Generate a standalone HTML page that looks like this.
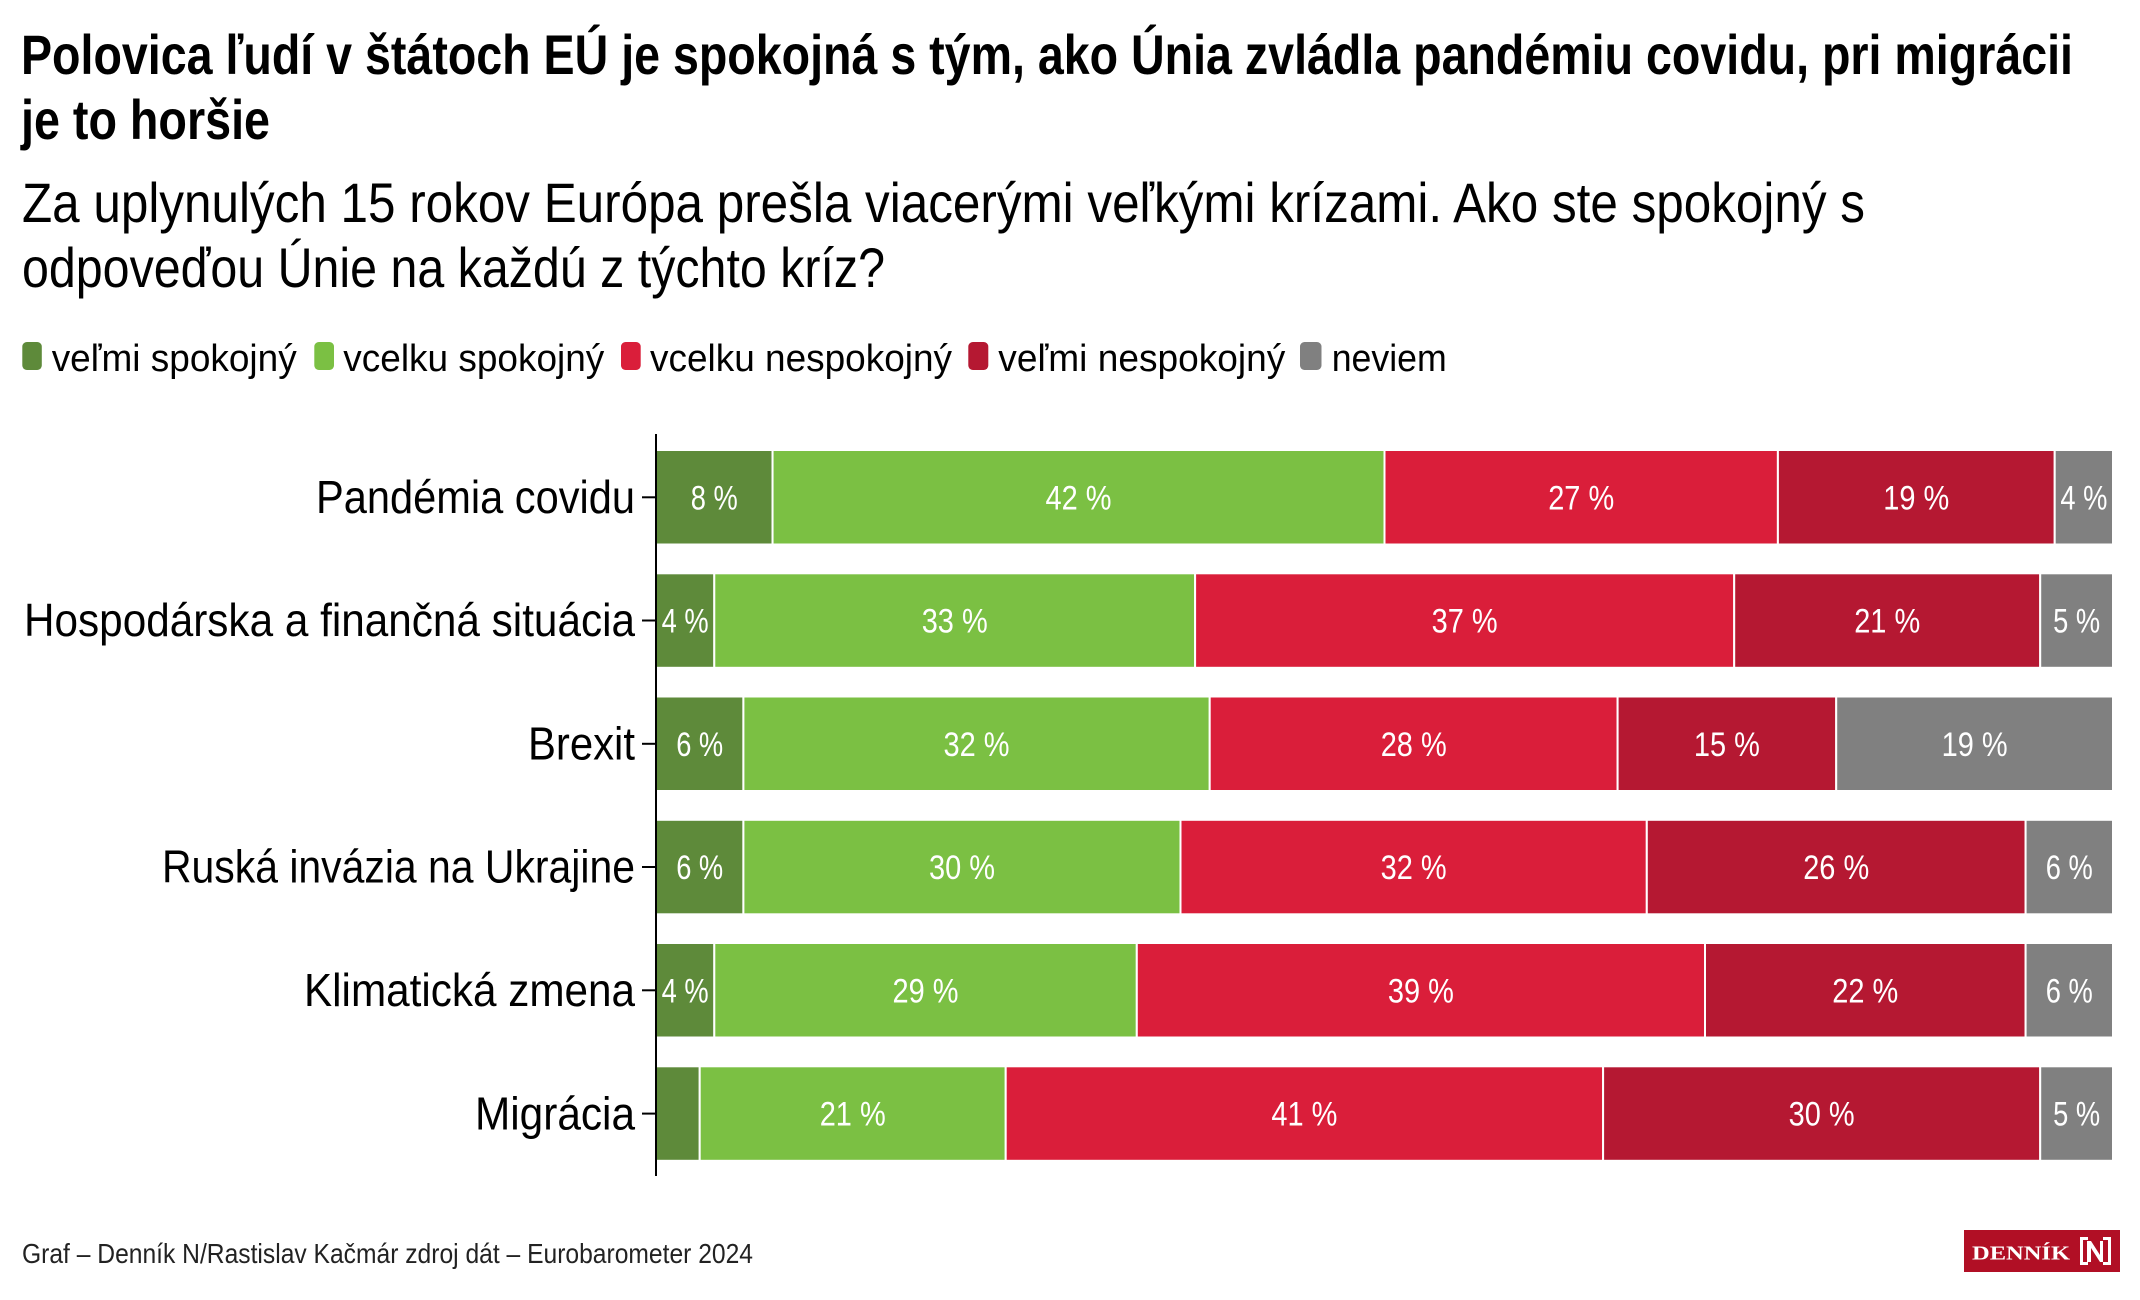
<!DOCTYPE html>
<html>
<head>
<meta charset="utf-8">
<style>
html,body{margin:0;padding:0;background:#fff;}
svg{display:block;}
text{font-family:"Liberation Sans Narrow","Liberation Sans",Arial,sans-serif;}
.t{font-weight:bold;font-size:56px;fill:#000;}
.s{font-size:56px;fill:#000;}
.lg{font-size:38px;fill:#000;}
.cat{font-size:46px;fill:#000;}
.v{font-size:34px;fill:#fff;}
.f{font-size:28px;fill:#222;}
</style>
</head>
<body>
<svg width="2140" height="1300" viewBox="0 0 2140 1300" xmlns="http://www.w3.org/2000/svg">
<rect width="2140" height="1300" fill="#fff"/>

<!-- Title -->
<text class="t" x="21" y="74" textLength="2052" lengthAdjust="spacingAndGlyphs">Polovica ľudí v štátoch EÚ je spokojná s tým, ako Únia zvládla pandémiu covidu, pri migrácii</text>
<text class="t" x="21" y="139" textLength="249" lengthAdjust="spacingAndGlyphs">je to horšie</text>

<!-- Subtitle -->
<text class="s" x="22" y="222" textLength="1843" lengthAdjust="spacingAndGlyphs">Za uplynulých 15 rokov Európa prešla viacerými veľkými krízami. Ako ste spokojný s</text>
<text class="s" x="22" y="287" textLength="863" lengthAdjust="spacingAndGlyphs">odpoveďou Únie na každú z týchto kríz?</text>

<!-- Legend -->
<rect x="22.3" y="342" width="19.5" height="28" rx="4.5" fill="#5E8A3A"/>
<text class="lg" x="51.7" y="371" textLength="245" lengthAdjust="spacingAndGlyphs">veľmi spokojný</text>
<rect x="314.3" y="342" width="19.7" height="28" rx="4.5" fill="#7BC043"/>
<text class="lg" x="343.3" y="371" textLength="261" lengthAdjust="spacingAndGlyphs">vcelku spokojný</text>
<rect x="621" y="342" width="19.7" height="28" rx="4.5" fill="#DA1E3A"/>
<text class="lg" x="650" y="371" textLength="302" lengthAdjust="spacingAndGlyphs">vcelku nespokojný</text>
<rect x="968.3" y="342" width="20" height="28" rx="4.5" fill="#B51832"/>
<text class="lg" x="998.3" y="371" textLength="287" lengthAdjust="spacingAndGlyphs">veľmi nespokojný</text>
<rect x="1300" y="342" width="21.5" height="28" rx="4.5" fill="#808080"/>
<text class="lg" x="1331.7" y="371" textLength="115" lengthAdjust="spacingAndGlyphs">neviem</text>

<!-- Bars -->
<g stroke="#fff" stroke-width="2">
<!-- Row 1 -->
<rect x="656" y="450" width="116.56" height="94.5" fill="#5E8A3A"/>
<rect x="772.56" y="450" width="611.94" height="94.5" fill="#7BC043"/>
<rect x="1384.5" y="450" width="393.4" height="94.5" fill="#DA1E3A"/>
<rect x="1777.9" y="450" width="276.8" height="94.5" fill="#B51832"/>
<rect x="2054.7" y="450" width="58.3" height="94.5" fill="#808080"/>
<!-- Row 2 -->
<rect x="656" y="573.3" width="58.28" height="94.5" fill="#5E8A3A"/>
<rect x="714.28" y="573.3" width="480.82" height="94.5" fill="#7BC043"/>
<rect x="1195.1" y="573.3" width="539.1" height="94.5" fill="#DA1E3A"/>
<rect x="1734.2" y="573.3" width="306" height="94.5" fill="#B51832"/>
<rect x="2040.2" y="573.3" width="72.8" height="94.5" fill="#808080"/>
<!-- Row 3 -->
<rect x="656" y="696.5" width="87.4" height="94.5" fill="#5E8A3A"/>
<rect x="743.4" y="696.5" width="466.3" height="94.5" fill="#7BC043"/>
<rect x="1209.7" y="696.5" width="407.9" height="94.5" fill="#DA1E3A"/>
<rect x="1617.6" y="696.5" width="218.6" height="94.5" fill="#B51832"/>
<rect x="1836.2" y="696.5" width="276.8" height="94.5" fill="#808080"/>
<!-- Row 4 -->
<rect x="656" y="819.8" width="87.4" height="94.5" fill="#5E8A3A"/>
<rect x="743.4" y="819.8" width="437.1" height="94.5" fill="#7BC043"/>
<rect x="1180.5" y="819.8" width="466.3" height="94.5" fill="#DA1E3A"/>
<rect x="1646.8" y="819.8" width="378.8" height="94.5" fill="#B51832"/>
<rect x="2025.6" y="819.8" width="87.4" height="94.5" fill="#808080"/>
<!-- Row 5 -->
<rect x="656" y="943" width="58.3" height="94.5" fill="#5E8A3A"/>
<rect x="714.3" y="943" width="422.5" height="94.5" fill="#7BC043"/>
<rect x="1136.8" y="943" width="568.2" height="94.5" fill="#DA1E3A"/>
<rect x="1705" y="943" width="320.6" height="94.5" fill="#B51832"/>
<rect x="2025.6" y="943" width="87.4" height="94.5" fill="#808080"/>
<!-- Row 6 -->
<rect x="656" y="1066.3" width="43.7" height="94.5" fill="#5E8A3A"/>
<rect x="699.7" y="1066.3" width="306" height="94.5" fill="#7BC043"/>
<rect x="1005.7" y="1066.3" width="597.4" height="94.5" fill="#DA1E3A"/>
<rect x="1603.1" y="1066.3" width="437.1" height="94.5" fill="#B51832"/>
<rect x="2040.2" y="1066.3" width="72.8" height="94.5" fill="#808080"/>
</g>

<!-- Axis -->
<line x1="656" y1="434" x2="656" y2="1176" stroke="#000" stroke-width="2"/>
<g stroke="#000" stroke-width="2">
<line x1="642" y1="497.3" x2="656" y2="497.3"/>
<line x1="642" y1="620.5" x2="656" y2="620.5"/>
<line x1="642" y1="743.8" x2="656" y2="743.8"/>
<line x1="642" y1="867" x2="656" y2="867"/>
<line x1="642" y1="990.3" x2="656" y2="990.3"/>
<line x1="642" y1="1113.6" x2="656" y2="1113.6"/>
</g>

<!-- Category labels -->
<text class="cat" x="316" y="513" textLength="319" lengthAdjust="spacingAndGlyphs">Pandémia covidu</text>
<text class="cat" x="24" y="636.2" textLength="611" lengthAdjust="spacingAndGlyphs">Hospodárska a finančná situácia</text>
<text class="cat" x="528" y="759.5" textLength="107" lengthAdjust="spacingAndGlyphs">Brexit</text>
<text class="cat" x="162" y="882.7" textLength="473" lengthAdjust="spacingAndGlyphs">Ruská invázia na Ukrajine</text>
<text class="cat" x="304" y="1006" textLength="331" lengthAdjust="spacingAndGlyphs">Klimatická zmena</text>
<text class="cat" x="475" y="1129.3" textLength="160" lengthAdjust="spacingAndGlyphs">Migrácia</text>

<!-- Value labels -->
<text class="v" x="690.8" y="509.3" textLength="47" lengthAdjust="spacingAndGlyphs">8 %</text>
<text class="v" x="1045.5" y="509.3" textLength="66" lengthAdjust="spacingAndGlyphs">42 %</text>
<text class="v" x="1548.2" y="509.3" textLength="66" lengthAdjust="spacingAndGlyphs">27 %</text>
<text class="v" x="1883.3" y="509.3" textLength="66" lengthAdjust="spacingAndGlyphs">19 %</text>
<text class="v" x="2060.4" y="509.3" textLength="47" lengthAdjust="spacingAndGlyphs">4 %</text>

<text class="v" x="661.6" y="632.5" textLength="47" lengthAdjust="spacingAndGlyphs">4 %</text>
<text class="v" x="921.7" y="632.5" textLength="66" lengthAdjust="spacingAndGlyphs">33 %</text>
<text class="v" x="1431.6" y="632.5" textLength="66" lengthAdjust="spacingAndGlyphs">37 %</text>
<text class="v" x="1854.2" y="632.5" textLength="66" lengthAdjust="spacingAndGlyphs">21 %</text>
<text class="v" x="2053.1" y="632.5" textLength="47" lengthAdjust="spacingAndGlyphs">5 %</text>

<text class="v" x="676.2" y="755.8" textLength="47" lengthAdjust="spacingAndGlyphs">6 %</text>
<text class="v" x="943.5" y="755.8" textLength="66" lengthAdjust="spacingAndGlyphs">32 %</text>
<text class="v" x="1380.7" y="755.8" textLength="66" lengthAdjust="spacingAndGlyphs">28 %</text>
<text class="v" x="1693.9" y="755.8" textLength="66" lengthAdjust="spacingAndGlyphs">15 %</text>
<text class="v" x="1941.6" y="755.8" textLength="66" lengthAdjust="spacingAndGlyphs">19 %</text>

<text class="v" x="676.2" y="879" textLength="47" lengthAdjust="spacingAndGlyphs">6 %</text>
<text class="v" x="929" y="879" textLength="66" lengthAdjust="spacingAndGlyphs">30 %</text>
<text class="v" x="1380.6" y="879" textLength="66" lengthAdjust="spacingAndGlyphs">32 %</text>
<text class="v" x="1803.2" y="879" textLength="66" lengthAdjust="spacingAndGlyphs">26 %</text>
<text class="v" x="2045.8" y="879" textLength="47" lengthAdjust="spacingAndGlyphs">6 %</text>

<text class="v" x="661.6" y="1002.3" textLength="47" lengthAdjust="spacingAndGlyphs">4 %</text>
<text class="v" x="892.5" y="1002.3" textLength="66" lengthAdjust="spacingAndGlyphs">29 %</text>
<text class="v" x="1387.9" y="1002.3" textLength="66" lengthAdjust="spacingAndGlyphs">39 %</text>
<text class="v" x="1832.3" y="1002.3" textLength="66" lengthAdjust="spacingAndGlyphs">22 %</text>
<text class="v" x="2045.8" y="1002.3" textLength="47" lengthAdjust="spacingAndGlyphs">6 %</text>

<text class="v" x="819.7" y="1125.6" textLength="66" lengthAdjust="spacingAndGlyphs">21 %</text>
<text class="v" x="1271.4" y="1125.6" textLength="66" lengthAdjust="spacingAndGlyphs">41 %</text>
<text class="v" x="1788.6" y="1125.6" textLength="66" lengthAdjust="spacingAndGlyphs">30 %</text>
<text class="v" x="2053.1" y="1125.6" textLength="47" lengthAdjust="spacingAndGlyphs">5 %</text>

<!-- Footer -->
<text class="f" x="22" y="1263" textLength="731" lengthAdjust="spacingAndGlyphs">Graf – Denník N/Rastislav Kačmár zdroj dát – Eurobarometer 2024</text>

<!-- Logo -->
<rect x="1964" y="1230" width="156" height="42" fill="#B10F25"/>
<text x="1972" y="1259.5" textLength="98" lengthAdjust="spacingAndGlyphs" style="font-family:'Liberation Serif','DejaVu Serif',serif;font-weight:bold;font-size:20px;fill:#fff;">DENNÍK</text>
<path d="M2080 1237 h8 v3 h-5 v22 h5 v3 h-8 z" fill="#fff"/>
<path d="M2111 1237 h-8 v3 h5 v22 h-5 v3 h8 z" fill="#fff"/>
<path d="M2087 1241 h4 l9 14 v-14 h3 v21 h-3 l-9 -14 v14 h-4 z" fill="#fff"/>
</svg>
</body>
</html>
